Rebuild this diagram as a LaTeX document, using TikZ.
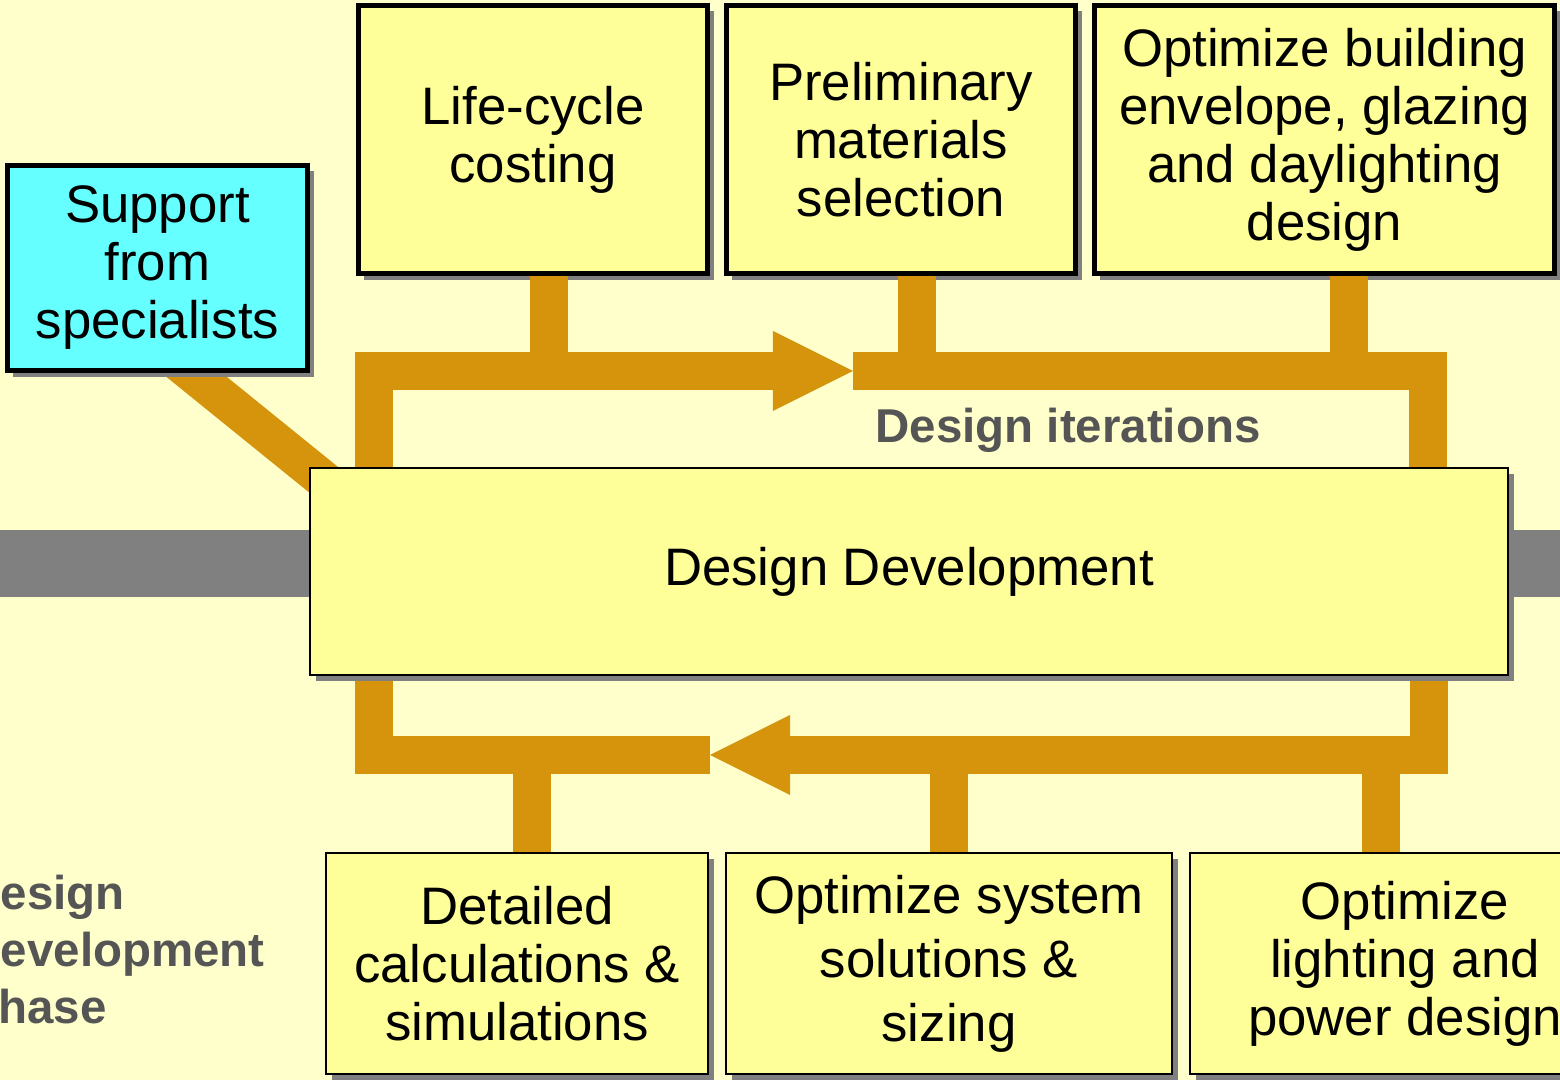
\documentclass[tikz,border=0pt]{standalone}
\usepackage{fontspec}
\setmainfont{Liberation Sans}
\usetikzlibrary{arrows.meta,shadows}

\definecolor{paper}{RGB}{255,255,204}
\definecolor{boxyellow}{RGB}{255,255,153}
\definecolor{boxcyan}{RGB}{102,255,255}
\definecolor{loop}{RGB}{214,148,12}
\definecolor{band}{RGB}{128,128,128}
\definecolor{labelgray}{RGB}{85,85,85}

\begin{document}
\begin{tikzpicture}[x=0.01cm,y=-0.01cm,
  box/.style={draw=black,fill=boxyellow,align=center,inner sep=0pt,
    font=\fontsize{15pt}{16.5pt}\selectfont,
    drop shadow={shadow xshift=0.06cm,shadow yshift=-0.06cm,fill=band,opacity=1}},
  task/.style={box,line width=1.4pt,minimum height=2.68cm},
  stepbox/.style={box,line width=0.6pt,minimum height=2.21cm},
  flow/.style={draw=loop,line width=0.38cm,line cap=butt,line join=miter},
  head/.style={-{Triangle[length=0.8cm,width=0.8cm,line width=0pt]}},
  phase/.style={font=\bfseries\fontsize{13.5pt}{16.2pt}\selectfont,text=labelgray,inner sep=0pt}]
\useasboundingbox (0,0) rectangle (1560,1080);
\clip (0,0) rectangle (1560,1080);
\fill[paper] (0,0) rectangle (1560,1080);
\fill[band] (0,530) rectangle (1560,597);

% upper row of tasks
\node[task,minimum width=3.49cm] (lcc) at (533,139.5) {Life-cycle\\costing};
\node[task,minimum width=3.49cm] (pms) at (901,139.5) {Preliminary\\materials\\selection};
\node[task,minimum width=4.60cm] (obe) at (1324.5,139.5) {Optimize building\\envelope, glazing\\and daylighting\\design};

% lower row of tasks
\node[stepbox,minimum width=3.82cm] (dcs) at (517,963.5) {Detailed\\calculations \&\\simulations};
\node[stepbox,minimum width=4.46cm,font=\fontsize{15pt}{18.2pt}\selectfont] (oss) at (949,963.5) {Optimize system\\solutions \&\\sizing};
\node[stepbox,minimum width=4.30cm] (olp) at (1405,963.5) {Optimize\\lighting and\\power design};

% loop corners and arrow tips
\coordinate (tl) at (374,371);
\coordinate (tm) at (853,371);
\coordinate (tr) at (1428,371);
\coordinate (bl) at (374,755);
\coordinate (bm) at (710,755);
\coordinate (br) at (1429,755);

% feeds into the loop
\draw[flow] (151,340) -- (340,493);
\draw[flow] (lcc.south -| 549,0) -- (549,0 |- tl);
\draw[flow] (pms.south -| 917,0) -- (917,0 |- tl);
\draw[flow] (obe.south -| 1349,0) -- (1349,0 |- tr);
\draw[flow] (dcs.north -| 532,0) -- (532,0 |- bl);
\draw[flow] (oss.north -| 949,0) -- (949,0 |- bm);
\draw[flow] (olp.north -| 1381,0) -- (1381,0 |- br);

% design iterations loop
\draw[flow,head] (374,500) -- (tl) -- (tm);
\draw[flow] (tm) -- (tr) -- (1428,500);
\draw[flow,head] (1429,640) -- (br) -- (bm);
\draw[flow] (bm) -- (bl) -- (374,640);

\node[task,fill=boxcyan,minimum width=3.00cm,minimum height=2.05cm] (sup) at (157.5,268) {Support\\from\\specialists};

\node[phase] (iter) at (1068,430) {Design iterations};

\node[stepbox,minimum width=11.98cm,minimum height=2.07cm] (dd) at (909,571.5) {Design Development};

\node[phase,anchor=west,align=left] (ddp) at (-34,950) {Design\\Development\\Phase};
\end{tikzpicture}
\end{document}
